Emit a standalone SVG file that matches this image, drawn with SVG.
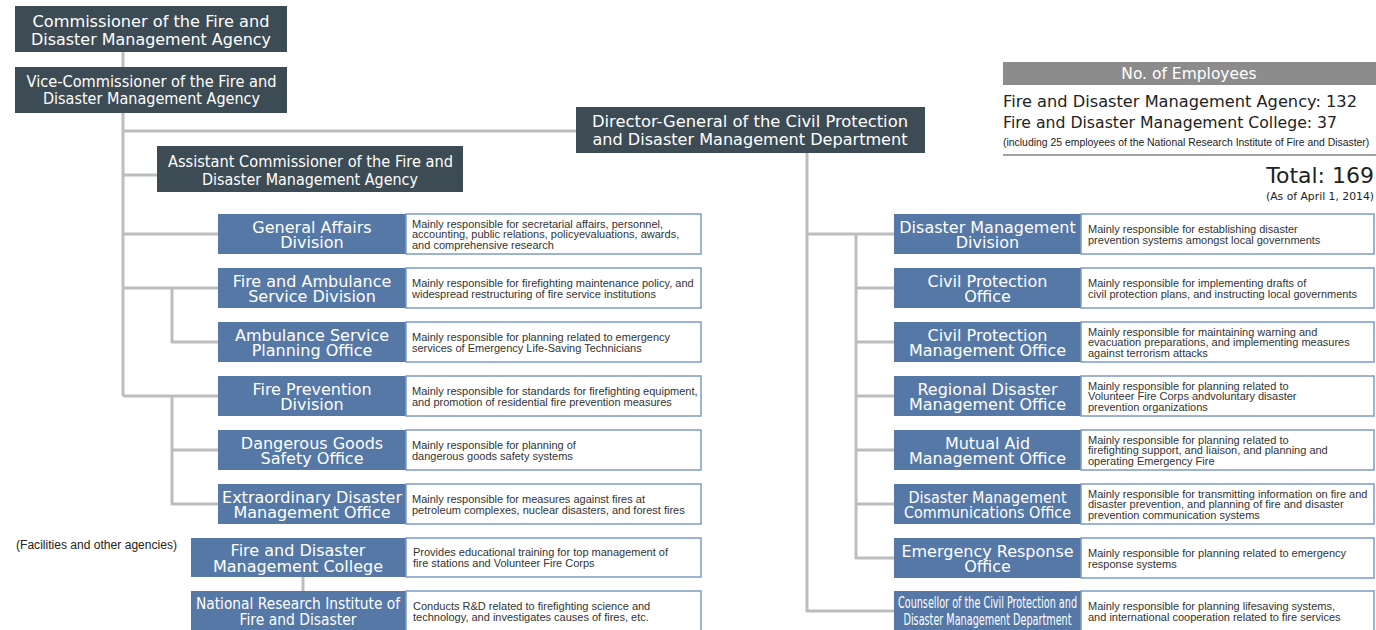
<svg xmlns="http://www.w3.org/2000/svg" width="1376" height="630" viewBox="0 0 1376 630">
<style>
.dk{fill:#3d4b54}
.bl{fill:#5578a6}
.wb{fill:#fff;stroke:#7e9bc6;stroke-width:1.5}
.tt{font-family:"DejaVu Sans",Verdana,sans-serif;font-size:16px;fill:#fff;text-anchor:middle}
.ds{font-family:"Liberation Sans",Arial,sans-serif;font-size:11px;fill:#333}
.em{font-family:"DejaVu Sans",Verdana,sans-serif;fill:#222}
.cn{fill:none;stroke:#bdbdbd;stroke-width:3;stroke-linejoin:round}
</style>
<rect width="1376" height="630" fill="#fff"/>
<g id="connectors">
<path class="cn" d="M123 52V67M123 113V396M123 131H576M123 175H157M123 234H218M123 288H218M172 288V342H218M123 396H218M172 396V504H218M172 450H218M303 577V591"/>
<path class="cn" d="M807 153V611H894M807 234H894M856 234V558H894M856 288H894M856 342H894M856 396H894M856 450H894M856 504H894"/>
</g>
<g id="commissioner"><rect class="dk" x="15" y="6" width="272" height="46"/><text class="tt" x="151" y="27" textLength="237" lengthAdjust="spacingAndGlyphs">Commissioner of the Fire and</text><text class="tt" x="151" y="45" textLength="240" lengthAdjust="spacingAndGlyphs">Disaster Management Agency</text></g>
<g id="vice"><rect class="dk" x="15" y="67" width="272" height="46"/><text class="tt" x="151.5" y="87" textLength="250" lengthAdjust="spacingAndGlyphs">Vice-Commissioner of the Fire and</text><text class="tt" x="151.5" y="104" textLength="217" lengthAdjust="spacingAndGlyphs">Disaster Management Agency</text></g>
<g id="director"><rect class="dk" x="576" y="107" width="349" height="46"/><text class="tt" x="750" y="127" textLength="316" lengthAdjust="spacingAndGlyphs">Director-General of the Civil Protection</text><text class="tt" x="750" y="145" textLength="315" lengthAdjust="spacingAndGlyphs">and Disaster Management Department</text></g>
<g id="assistant"><rect class="dk" x="157" y="146" width="306" height="46"/><text class="tt" x="310.5" y="167" textLength="285" lengthAdjust="spacingAndGlyphs">Assistant Commissioner of the Fire and</text><text class="tt" x="310" y="185" textLength="216" lengthAdjust="spacingAndGlyphs">Disaster Management Agency</text></g>

<g id="general-affairs"><rect class="bl" x="218" y="214" width="188" height="40"/><rect class="wb" x="406" y="214" width="295" height="40"/><text class="tt" x="312" y="233">General Affairs</text><text class="tt" x="312" y="248">Division</text><text class="ds" x="412" y="227.5">Mainly responsible for secretarial affairs, personnel,</text><text class="ds" x="412" y="238">accounting, public relations, policyevaluations, awards,</text><text class="ds" x="412" y="248.5">and comprehensive research</text></g>
<g id="fire-ambulance"><rect class="bl" x="218" y="268" width="188" height="40"/><rect class="wb" x="406" y="268" width="295" height="40"/><text class="tt" x="312" y="287">Fire and Ambulance</text><text class="tt" x="312" y="302">Service Division</text><text class="ds" x="412" y="286.5">Mainly responsible for firefighting maintenance policy, and</text><text class="ds" x="412" y="297.5">widespread restructuring of fire service institutions</text></g>
<g id="ambulance-planning"><rect class="bl" x="218" y="322" width="188" height="40"/><rect class="wb" x="406" y="322" width="295" height="40"/><text class="tt" x="312" y="341">Ambulance Service</text><text class="tt" x="312" y="356">Planning Office</text><text class="ds" x="412" y="340.5">Mainly responsible for planning related to emergency</text><text class="ds" x="412" y="351.5">services of Emergency Life-Saving Technicians</text></g>
<g id="fire-prevention"><rect class="bl" x="218" y="376" width="188" height="40"/><rect class="wb" x="406" y="376" width="295" height="40"/><text class="tt" x="312" y="395">Fire Prevention</text><text class="tt" x="312" y="410">Division</text><text class="ds" x="412" y="394.5">Mainly responsible for standards for firefighting equipment,</text><text class="ds" x="412" y="405.5">and promotion of residential fire prevention measures</text></g>
<g id="dangerous-goods"><rect class="bl" x="218" y="430" width="188" height="40"/><rect class="wb" x="406" y="430" width="295" height="40"/><text class="tt" x="312" y="449">Dangerous Goods</text><text class="tt" x="312" y="464">Safety Office</text><text class="ds" x="412" y="448.5">Mainly responsible for planning of</text><text class="ds" x="412" y="459.5">dangerous goods safety systems</text></g>
<g id="extraordinary-disaster"><rect class="bl" x="218" y="484" width="188" height="40"/><rect class="wb" x="406" y="484" width="295" height="40"/><text class="tt" x="312" y="503">Extraordinary Disaster</text><text class="tt" x="312" y="518">Management Office</text><text class="ds" x="412" y="502.5">Mainly responsible for measures against fires at</text><text class="ds" x="412" y="513.5">petroleum complexes, nuclear disasters, and forest fires</text></g>

<text x="16" y="549" font-family="Liberation Sans,Arial,sans-serif" font-size="12" fill="#222" textLength="161" lengthAdjust="spacingAndGlyphs">(Facilities and other agencies)</text>
<g id="college"><rect class="bl" x="191" y="538" width="215" height="39"/><rect class="wb" x="406" y="538" width="295" height="39"/><text class="tt" x="298" y="556">Fire and Disaster</text><text class="tt" x="298" y="572">Management College</text><text class="ds" x="413" y="556">Provides educational training for top management of</text><text class="ds" x="413" y="567">fire stations and Volunteer Fire Corps</text></g>
<g id="nri"><rect class="bl" x="191" y="591" width="215" height="40"/><rect class="wb" x="406" y="591" width="295" height="40"/><text class="tt" x="298" y="609" textLength="204" lengthAdjust="spacingAndGlyphs">National Research Institute of</text><text class="tt" x="298" y="625" textLength="117" lengthAdjust="spacingAndGlyphs">Fire and Disaster</text><text class="ds" x="413" y="609.5">Conducts R&amp;D related to firefighting science and</text><text class="ds" x="413" y="620.5">technology, and investigates causes of fires, etc.</text></g>

<g id="disaster-management-division"><rect class="bl" x="894" y="214" width="187" height="40"/><rect class="wb" x="1081" y="214" width="293" height="40"/><text class="tt" x="987.5" y="233">Disaster Management</text><text class="tt" x="987.5" y="248">Division</text><text class="ds" x="1088" y="232.5">Mainly responsible for establishing disaster</text><text class="ds" x="1088" y="243.5">prevention systems amongst local governments</text></g>
<g id="civil-protection-office"><rect class="bl" x="894" y="268" width="187" height="40"/><rect class="wb" x="1081" y="268" width="293" height="40"/><text class="tt" x="987.5" y="287">Civil Protection</text><text class="tt" x="987.5" y="302">Office</text><text class="ds" x="1088" y="286.5">Mainly responsible for implementing drafts of</text><text class="ds" x="1088" y="297.5">civil protection plans, and instructing local governments</text></g>
<g id="civil-protection-management"><rect class="bl" x="894" y="322" width="187" height="40"/><rect class="wb" x="1081" y="322" width="293" height="40"/><text class="tt" x="987.5" y="341">Civil Protection</text><text class="tt" x="987.5" y="356">Management Office</text><text class="ds" x="1088" y="335.5">Mainly responsible for maintaining warning and</text><text class="ds" x="1088" y="346">evacuation preparations, and implementing measures</text><text class="ds" x="1088" y="356.5">against terrorism attacks</text></g>
<g id="regional-disaster"><rect class="bl" x="894" y="376" width="187" height="40"/><rect class="wb" x="1081" y="376" width="293" height="40"/><text class="tt" x="987.5" y="395">Regional Disaster</text><text class="tt" x="987.5" y="410">Management Office</text><text class="ds" x="1088" y="389.5">Mainly responsible for planning related to</text><text class="ds" x="1088" y="400">Volunteer Fire Corps andvoluntary disaster</text><text class="ds" x="1088" y="410.5">prevention organizations</text></g>
<g id="mutual-aid"><rect class="bl" x="894" y="430" width="187" height="40"/><rect class="wb" x="1081" y="430" width="293" height="40"/><text class="tt" x="987.5" y="449">Mutual Aid</text><text class="tt" x="987.5" y="464">Management Office</text><text class="ds" x="1088" y="443.5">Mainly responsible for planning related to</text><text class="ds" x="1088" y="454">firefighting support, and liaison, and planning and</text><text class="ds" x="1088" y="464.5">operating Emergency Fire</text></g>
<g id="communications"><rect class="bl" x="894" y="484" width="187" height="40"/><rect class="wb" x="1081" y="484" width="293" height="40"/><text class="tt" x="987.5" y="502.5" textLength="158" lengthAdjust="spacingAndGlyphs">Disaster Management</text><text class="tt" x="987.5" y="518" textLength="167" lengthAdjust="spacingAndGlyphs">Communications Office</text><text class="ds" x="1088" y="497.5">Mainly responsible for transmitting information on fire and</text><text class="ds" x="1088" y="508">disaster prevention, and planning of fire and disaster</text><text class="ds" x="1088" y="518.5">prevention communication systems</text></g>
<g id="emergency-response"><rect class="bl" x="894" y="538" width="187" height="40"/><rect class="wb" x="1081" y="538" width="293" height="40"/><text class="tt" x="987.5" y="557">Emergency Response</text><text class="tt" x="987.5" y="572">Office</text><text class="ds" x="1088" y="556.5">Mainly responsible for planning related to emergency</text><text class="ds" x="1088" y="567.5">response systems</text></g>
<g id="counsellor"><rect class="bl" x="894" y="591" width="187" height="40"/><rect class="wb" x="1081" y="591" width="293" height="40"/><text class="tt" x="987.5" y="608" font-size="14" textLength="179" lengthAdjust="spacingAndGlyphs">Counsellor of the Civil Protection and</text><text class="tt" x="987.5" y="625" font-size="14" textLength="168" lengthAdjust="spacingAndGlyphs">Disaster Management Department</text><text class="ds" x="1088" y="609.5">Mainly responsible for planning lifesaving systems,</text><text class="ds" x="1088" y="620.5">and international cooperation related to fire services</text></g>

<g id="employees">
<rect x="1003" y="62" width="373" height="23" fill="#8c8c8c"/>
<text x="1189" y="79" font-family="DejaVu Sans,Verdana,sans-serif" font-size="15.5" fill="#fff" text-anchor="middle">No. of Employees</text>
<text class="em" x="1003" y="107" font-size="16" textLength="354" lengthAdjust="spacingAndGlyphs">Fire and Disaster Management Agency: 132</text>
<text class="em" x="1003" y="128" font-size="16" textLength="334" lengthAdjust="spacingAndGlyphs">Fire and Disaster Management College: 37</text>
<text transform="translate(1003 146) scale(0.9 1)" x="0" y="0" font-family="Liberation Sans,Arial,sans-serif" fill="#222" font-size="11.5" textLength="407" lengthAdjust="spacingAndGlyphs">(including 25 employees of the National Research Institute of Fire and Disaster)</text>
<line x1="1003" y1="155" x2="1376" y2="155" stroke="#444" stroke-width="1"/>
<text class="em" x="1374" y="183" font-size="22" text-anchor="end">Total: 169</text>
<text class="em" x="1374" y="200" font-size="11" text-anchor="end" textLength="108" lengthAdjust="spacingAndGlyphs">(As of April 1, 2014)</text>
</g>
</svg>
